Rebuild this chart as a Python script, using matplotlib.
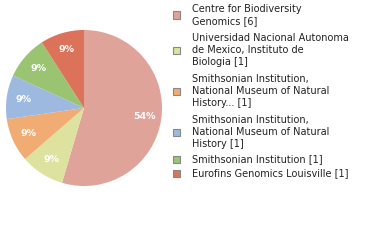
import matplotlib
matplotlib.use("Agg")
import matplotlib.pyplot as plt
from matplotlib.patches import Rectangle

labels = [
    "Centre for Biodiversity\nGenomics [6]",
    "Universidad Nacional Autonoma\nde Mexico, Instituto de\nBiologia [1]",
    "Smithsonian Institution,\nNational Museum of Natural\nHistory... [1]",
    "Smithsonian Institution,\nNational Museum of Natural\nHistory [1]",
    "Smithsonian Institution [1]",
    "Eurofins Genomics Louisville [1]",
]
counts = [6, 1, 1, 1, 1, 1]
colors = ["#e0a39a", "#dde29e", "#f0ac72", "#9db9e0", "#9bc472", "#dc7259"]

W, H = 380, 240
fig = plt.figure(figsize=(W / 100, H / 100), dpi=100)

# pie: centre ~ (84,108) px, radius ~78 px
cx, cy, r = 84, 108, 78
ax = fig.add_axes([(cx - r) / W, (H - cy - r) / H, 2 * r / W, 2 * r / H])
wedges, texts, autotexts = ax.pie(
    counts, colors=colors, startangle=90, counterclock=False,
    autopct=lambda p: f"{int(p)}%", pctdistance=0.78,
    wedgeprops=dict(linewidth=0),
    textprops=dict(color="white", fontsize=6.8, fontweight="bold"),
)
ax.set_xlim(-1, 1)
ax.set_ylim(-1, 1)
ax.set_aspect("equal")

# legend drawn by hand
line_h = 12
text_x = 192
top_y = [9, 38, 79, 120, 159, 173]
for lab, col, y0 in zip(labels, colors, top_y):
    n = lab.count("\n") + 1
    mid = y0 + (n - 1) * line_h / 2
    fig.patches.append(Rectangle((173 / W, (H - mid - 3.5) / H), 7 / W, 7 / H,
                                 transform=fig.transFigure, facecolor=col,
                                 edgecolor="#888888", linewidth=0.8))
    for i, line in enumerate(lab.split("\n")):
        fig.text(text_x / W, (H - (y0 + i * line_h)) / H, line,
                 fontsize=7, color="#222222", va="center", ha="left")

fig.savefig("out.png", dpi=100)
